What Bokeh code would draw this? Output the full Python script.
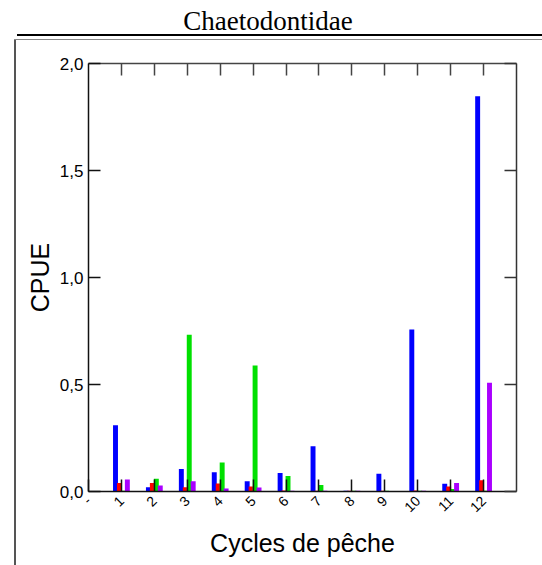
import numpy as np
from bokeh.plotting import figure
from bokeh.models import Range1d, FixedTicker, LinearAxis, Div
from bokeh.layouts import column, row
from bokeh.embed import file_html
from bokeh.resources import INLINE

# CPUE per fishing cycle, four series
cycles = list(range(1, 13))
blue_vals = [0.31, 0.02, 0.105, 0.09, 0.048, 0.086, 0.212, 0.003, 0.083, 0.757, 0.036, 1.847]
red_vals = [0.04, 0.04, 0.02, 0.037, 0.023, 0.005, 0.003, 0.003, 0.004, 0.005, 0.023, 0.053]
green_vals = [0.003, 0.06, 0.733, 0.135, 0.589, 0.072, 0.03, 0.003, 0.003, 0.003, 0.012, 0.003]
purple_vals = [0.056, 0.028, 0.048, 0.014, 0.019, 0.003, 0.003, 0.003, 0.002, 0.004, 0.04, 0.508]

y_ticks = [0.0, 0.5, 1.0, 1.5, 2.0]
y_tick_labels = ["0,0", "0,5", "1,0", "1,5", "2,0"]
x_ticks = [0] + cycles
x_tick_labels = ["-"] + [str(c) for c in cycles]

title_text = "Chaetodontidae"

PAGE_W, PAGE_H = 542, 565
HEADER_H = 40
SIDE_W = 17
FIG_W, FIG_H = PAGE_W - SIDE_W, PAGE_H - HEADER_H

p = figure(width=FIG_W, height=FIG_H, output_backend="svg", toolbar_location=None,
           x_range=Range1d(0, 13), y_range=Range1d(0, 2),
           frame_width=428, frame_height=428,
           min_border_left=71, min_border_top=23,
           min_border_right=26, min_border_bottom=74,
           x_axis_location=None, y_axis_location=None, margin=0)
p.grid.visible = False
p.outline_line_color = None
p.background_fill_color = "white"
p.border_fill_color = "white"

# bars, dodged around each cycle
offsets = [-0.18, -0.06, 0.06, 0.18]
series = [(blue_vals, "#0000ff"), (red_vals, "#ff0000"),
          (green_vals, "#00e000"), (purple_vals, "#aa00ff")]
xs = np.array(cycles, dtype=float)
for (vals, col), off in zip(series, offsets):
    p.vbar(x=xs + off, top=vals, bottom=0, width=0.15,
           fill_color=col, line_color=None)


def style_axis(ax, ticks, labels=None, line_color="#222222"):
    ax.ticker = FixedTicker(ticks=ticks)
    ax.major_tick_in = 12
    ax.major_tick_out = 0
    ax.minor_tick_line_color = None
    ax.axis_line_color = line_color
    ax.axis_line_width = 1.5
    ax.major_tick_line_color = line_color
    ax.major_tick_line_width = 1.5
    if labels is None:
        ax.major_label_text_color = None
    else:
        ax.major_label_overrides = {t: l for t, l in zip(ticks, labels)}
        ax.major_label_text_font = "Liberation Sans"
        ax.major_label_text_font_size = "17px"
        ax.major_label_text_color = "black"


def style_label(ax, text, standoff):
    ax.axis_label = text
    ax.axis_label_text_font = "Liberation Sans"
    ax.axis_label_text_font_size = "25px"
    ax.axis_label_text_font_style = "normal"
    ax.axis_label_text_color = "black"
    ax.axis_label_standoff = standoff


left = LinearAxis()
style_axis(left, y_ticks, y_tick_labels, "#111111")
style_label(left, "CPUE", 3)
p.add_layout(left, "left")

right = LinearAxis()
style_axis(right, y_ticks, line_color="#333333")
p.add_layout(right, "right")

top = LinearAxis()
style_axis(top, cycles, line_color="#444444")
p.add_layout(top, "above")

bottom = LinearAxis()
style_axis(bottom, x_ticks, x_tick_labels, "#111111")
bottom.major_label_orientation = np.pi / 4
bottom.major_label_text_font_size = "14px"
bottom.major_label_standoff = 7
style_label(bottom, "Cycles de pêche", 9)
p.add_layout(bottom, "below")

# header with the title and the double rule, and the left rule of the page box
header = Div(width=PAGE_W, height=HEADER_H, margin=0, text=(
    f'<div style="position:relative;width:{PAGE_W}px;height:{HEADER_H}px;overflow:hidden;">'
    f'<div style="position:absolute;left:0;top:8px;width:536px;text-align:center;'
    f'font-family:\'Liberation Serif\';font-size:27px;line-height:27px;color:black;">{title_text}</div>'
    f'<div style="position:absolute;left:17px;top:34px;width:525px;height:2px;background:#000;"></div>'
    f'<div style="position:absolute;left:14px;top:39px;width:528px;height:1px;background:#888;"></div>'
    f'</div>'))
side = Div(width=SIDE_W, height=FIG_H, margin=0, text=(
    f'<div style="position:relative;width:{SIDE_W}px;height:{FIG_H}px;">'
    f'<div style="position:absolute;left:14px;top:0;width:2px;height:{FIG_H}px;background:#555;"></div>'
    f'</div>'))

layout = column(header, row(side, p, spacing=0, margin=0), spacing=0, margin=0)

open("out.html", "w").write(file_html(layout, INLINE))
